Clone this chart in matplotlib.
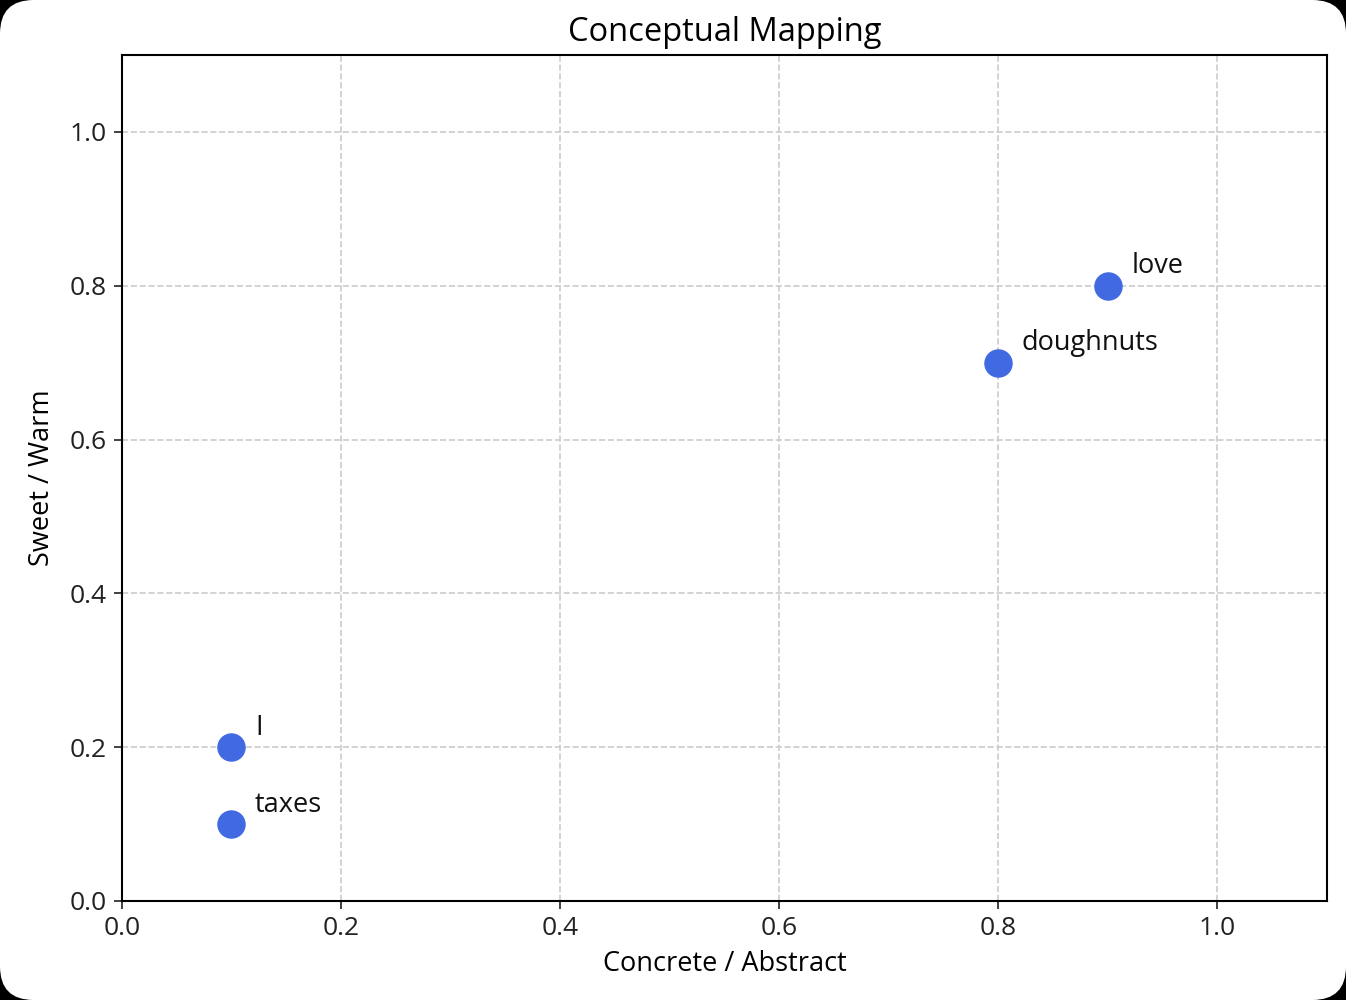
import matplotlib
matplotlib.use("Agg")
import matplotlib.pyplot as plt
from matplotlib.patches import FancyBboxPatch

# word positions on the two concept axes
words = ["I", "love", "doughnuts", "taxes"]
abstract = [0.1, 0.9, 0.8, 0.1]
sweet = [0.2, 0.8, 0.7, 0.1]

plt.rcParams['font.family'] = ['Open Sans', 'DejaVu Sans']

fig = plt.figure(figsize=(13.46, 10), dpi=100)
fig.patch.set_facecolor('black')
# white rounded card, like the screenshot frame
card = FancyBboxPatch((0.0, 0.0), 1.0, 1.0, boxstyle="round,pad=0,rounding_size=0.025",
                      transform=fig.transFigure, facecolor='white', edgecolor='none',
                      mutation_aspect=1.346, zorder=-10)
fig.patches.append(card)

ax = fig.add_axes([0.0906, 0.099, 0.8953, 0.846])
ax.set_facecolor('white')
ax.scatter(abstract, sweet, s=380, color='royalblue', zorder=3)
for w, x, y in zip(words, abstract, sweet):
    ax.annotate(w, (x, y), xytext=(17, 9), textcoords='offset points', fontsize=19.5, color='#111111')

ax.set_xlim(0, 1.1)
ax.set_ylim(0, 1.1)
ax.set_xticks([0.0, 0.2, 0.4, 0.6, 0.8, 1.0])
ax.set_yticks([0.0, 0.2, 0.4, 0.6, 0.8, 1.0])
ax.tick_params(labelsize=19, length=6, width=1.2, colors='#222222', pad=5)
ax.grid(True, linestyle='--', color='#cccccc', linewidth=1.2)
for sp in ax.spines.values():
    sp.set_linewidth(1.5)
ax.set_xlabel("Concrete / Abstract", fontsize=19.5, labelpad=6)
ax.set_ylabel("Sweet / Warm", fontsize=19.5, labelpad=10)
ax.set_title("Conceptual Mapping", fontsize=23.5, pad=10)

fig.savefig("out.png", dpi=100, facecolor=fig.get_facecolor())
